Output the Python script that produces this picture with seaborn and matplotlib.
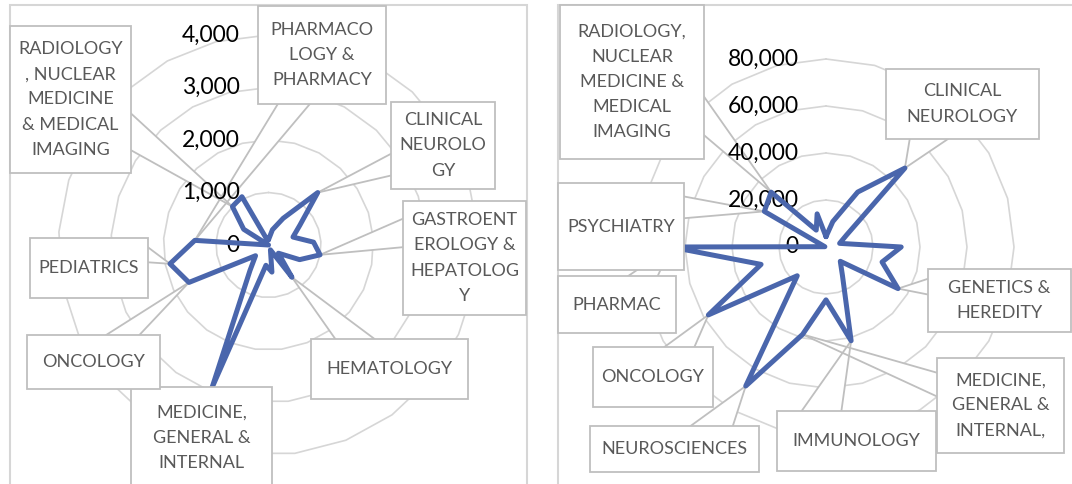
import numpy as np
import matplotlib
matplotlib.use("Agg")
import matplotlib.pyplot as plt
import seaborn as sns
from matplotlib.patches import Rectangle, Polygon
from matplotlib.lines import Line2D

# ---- data: left radar (25 categories, alphabetical) ----
cats_left = [
    "Allergy", "Anesthesiology", "Cardiac & Cardiovascular Systems", "Clinical Neurology",
    "Critical Care Medicine", "Dermatology", "Endocrinology & Metabolism",
    "Gastroenterology & Hepatology", "Genetics & Heredity", "Geriatrics & Gerontology",
    "Hematology", "Immunology", "Infectious Diseases", "Medical Informatics",
    "Medicine, General & Internal", "Neurosciences", "Obstetrics & Gynecology", "Oncology",
    "Pediatrics", "Pharmacology & Pharmacy", "Psychiatry",
    "Public, Environmental & Occupational Health",
    "Radiology, Nuclear Medicine & Medical Imaging", "Rheumatology", "Urology & Nephrology",
]
vals_left = [100, 300, 580, 1370, 710, 490, 860, 1000, 655, 245, 760, 100, 520, 390,
             2920, 600, 320, 1675, 1910, 1406, 0, 560, 1005, 1050, 100]
ticks_left = [0, 1000, 2000, 3000, 4000]

# ---- data: right radar (24 categories, alphabetical) ----
cats_right = [
    "Anesthesiology", "Biochemistry & Molecular Biology", "Cardiac & Cardiovascular Systems",
    "Clinical Neurology", "Critical Care Medicine", "Dermatology", "Endocrinology & Metabolism",
    "Gastroenterology & Hepatology", "Genetics & Heredity", "Geriatrics & Gerontology",
    "Hematology", "Immunology", "Infectious Diseases", "Medicine, General & Internal",
    "Neurosciences", "Nutrition & Dietetics", "Oncology", "Pediatrics",
    "Pharmacology & Pharmacy", "Physiology", "Psychiatry",
    "Radiology, Nuclear Medicine & Medical Imaging", "Rehabilitation", "Surgery",
]
vals_right = [4400, 11200, 27000, 47500, 10000, 6000, 32000, 24700, 35400, 8600, 14000,
              41300, 22500, 38500, 68300, 17300, 57800, 28600, 66000, 500, 30300, 33000,
              8300, 14600]
ticks_right = [0, 20000, 40000, 60000, 80000]

# callout text as shown (category index -> wrapped text)
labels_left = {
    22: "RADIOLOGY\n, NUCLEAR\nMEDICINE\n& MEDICAL\nIMAGING",
    19: "PHARMACO\nLOGY &\nPHARMACY",
    3: "CLINICAL\nNEUROLO\nGY",
    7: "GASTROENT\nEROLOGY &\nHEPATOLOG\nY",
    10: "HEMATOLOGY",
    14: "MEDICINE,\nGENERAL &\nINTERNAL",
    17: "ONCOLOGY",
    18: "PEDIATRICS",
}
labels_right = {
    21: "RADIOLOGY,\nNUCLEAR\nMEDICINE &\nMEDICAL\nIMAGING",
    3: "CLINICAL\nNEUROLOGY",
    18: "PHARMAC",
    20: "PSYCHIATRY",
    16: "ONCOLOGY",
    14: "NEUROSCIENCES",
    11: "IMMUNOLOGY",
    13: "MEDICINE,\nGENERAL &\nINTERNAL,",
    8: "GENETICS &\nHEREDITY",
}

# ---- layout (pixels, top-left origin) ----
W, H = 1072, 484
boxes_left = {
    22: (10, 26, 131, 173), 19: (258, 6, 386, 104), 3: (391, 102, 495, 189),
    7: (403, 201, 526, 315), 10: (311, 339, 468, 399), 14: (131, 387, 272, 489),
    17: (27, 335, 160, 389), 18: (30, 238, 148, 298),
}
boxes_right = {
    21: (560, 5, 704, 159), 3: (886, 69, 1039, 139), 18: (558, 276, 676, 333),
    20: (558, 183, 684, 270), 16: (593, 347, 713, 407), 14: (590, 426, 759, 472),
    11: (777, 411, 936, 471), 13: (937, 358, 1064, 453), 8: (928, 269, 1071, 332),
}

BLUE = "#4a66ac"
RING = "#d6d6d6"
EDGE = "#bfbfbf"
TXT = "#595959"

sns.set_style("white")
plt.rcParams["font.family"] = ["Lato", "DejaVu Sans"]

fig = plt.figure(figsize=(W / 100, H / 100), dpi=100)


def fx(x):
    return x / W


def fy(y):
    return 1 - y / H


# panel frames
for x0, y0, x1, y1 in [(9.5, 5, 527, 495), (558, 5, 1085, 495)]:
    fig.patches.append(Rectangle((fx(x0), fy(y1)), (x1 - x0) / W, (y1 - y0) / H,
                                 transform=fig.transFigure, fill=False, ec=RING,
                                 lw=1.5, zorder=0))


def callout(ax, theta, r, text, box):
    x0, y0, x1, y1 = box
    px, py = ax.transData.transform((theta, r))
    py = H - py
    cx, cy = (x0 + x1) / 2, (y0 + y1) / 2
    dx, dy = (px - cx) / ((x1 - x0) / 2), (py - cy) / ((y1 - y0) / 2)
    if not (abs(dx) <= 1 and abs(dy) <= 1):
        if abs(dx) > abs(dy):
            ex = x1 if dx > 0 else x0
            ln = y1 - y0
            c = y0 + (0.28 if py < cy else 0.72) * ln
            b1, b2 = (ex, c - 0.125 * ln), (ex, c + 0.125 * ln)
        else:
            ey = y1 if dy > 0 else y0
            ln = x1 - x0
            c = x0 + (0.28 if px < cx else 0.72) * ln
            b1, b2 = (c - 0.125 * ln, ey), (c + 0.125 * ln, ey)
        # pointer of the callout: white wedge above the rings, under labels and line
        ax.add_artist(Polygon([(fx(a), fy(b)) for a, b in (b1, (px, py), b2)],
                              transform=fig.transFigure, fc="white", ec="none",
                              zorder=1.5, clip_on=False))
        for b in (b1, b2):
            ax.add_artist(Line2D([fx(b[0]), fx(px)], [fy(b[1]), fy(py)],
                                 transform=fig.transFigure, color=EDGE, lw=1.3,
                                 zorder=1.6, clip_on=False))
    fig.patches.append(Rectangle((fx(x0), fy(y1)), (x1 - x0) / W, (y1 - y0) / H,
                                 transform=fig.transFigure, fc="white", ec=EDGE,
                                 lw=1.3, zorder=5))
    fig.text(fx(cx), fy(cy), text, ha="center", va="center", color=TXT, fontsize=13,
             linespacing=1.7, zorder=8)


def radar(cx, cy, rad, cats, vals, ticks, labels, boxes, tick_off):
    n = len(cats)
    ax = fig.add_axes([fx(cx - rad), fy(cy + rad), 2 * rad / W, 2 * rad / H],
                      projection="polar")
    ax.set_theta_zero_location("N")
    ax.set_theta_direction(-1)
    ax.set_ylim(0, ticks[-1])
    ax.grid(False)
    ax.set_xticks([])
    ax.set_yticks([])
    ax.spines["polar"].set_visible(False)
    ax.patch.set_alpha(0)

    theta = np.linspace(0, 2 * np.pi, n, endpoint=False)
    tc = np.append(theta, 2 * np.pi)
    for t in ticks[1:]:
        ax.plot(tc, [t] * (n + 1), color=RING, lw=1.2, zorder=1, clip_on=False)
    for t in ticks:
        ax.annotate(f"{t:,}", xy=(0, t), xytext=(-tick_off * 0.72, 0),
                    textcoords="offset points", ha="right", va="center",
                    fontsize=16.5, color="black", zorder=2, annotation_clip=False)

    closed = np.append(vals, vals[0])
    sns.lineplot(x=tc, y=closed, sort=False, estimator=None, ax=ax, color=BLUE,
                 lw=3.6, zorder=3)
    ax.set_xlabel("")
    ax.set_ylabel("")

    for k, text in labels.items():
        callout(ax, theta[k], vals[k], text, boxes[k])


radar(268.5, 245, 210, cats_left, vals_left, ticks_left, labels_left, boxes_left, 29)
radar(826, 247, 188, cats_right, vals_right, ticks_right, labels_right, boxes_right, 27)

fig.savefig("out.png", dpi=100, facecolor="white")
